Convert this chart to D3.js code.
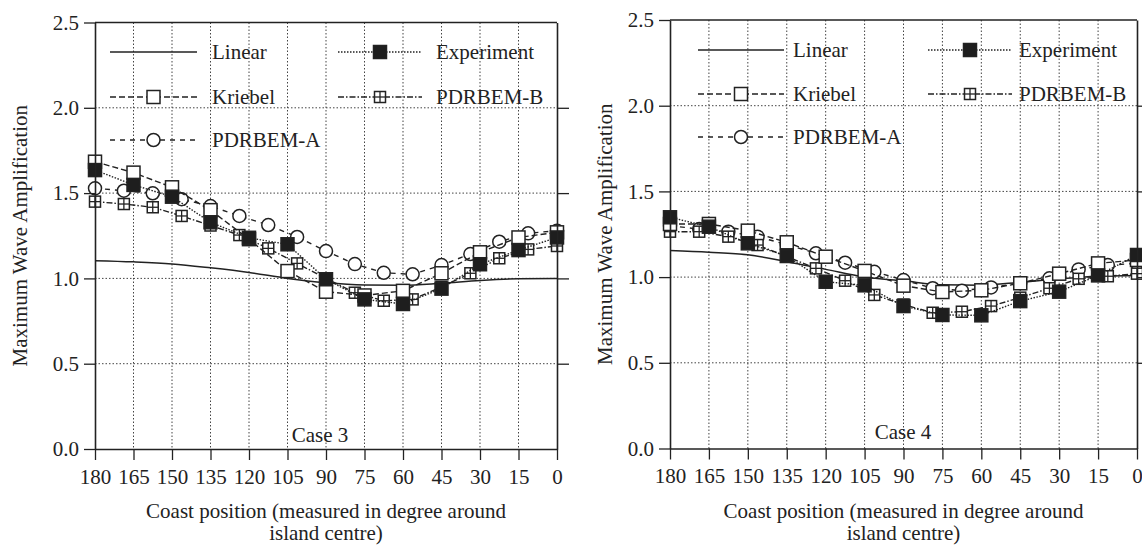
<!DOCTYPE html>
<html lang="en">
<head>
    <meta charset="UTF-8">
    <title>Maximum wave amplification, Case 3 and Case 4</title>
    <script src="https://d3js.org/d3.v7.min.js"></script>
    <style>
        body { margin: 0; background: #fff; }
        svg text { font-family: "Liberation Serif", "Times New Roman", serif; fill: #222; }
        .axis path, .axis line { stroke: #222; }
        .grid { stroke: #444; stroke-dasharray: 1.5,2; stroke-width: 1; }
    </style>
</head>
<body>
    <svg width="1142" height="545"></svg>

    <script>
        // tick labels / categories
        var xTicks = [180, 165, 150, 135, 120, 105, 90, 75, 60, 45, 30, 15, 0];
        var yTicks = [0.0, 0.5, 1.0, 1.5, 2.0, 2.5];
        // positions of the PDRBEM results (every 11.25 degree)
        var xFine = [180, 168.75, 157.5, 146.25, 135, 123.75, 112.5, 101.25, 90,
                     78.75, 67.5, 56.25, 45, 33.75, 22.5, 11.25, 0];

        // Case 3
        var linear3   = [1.104, 1.097, 1.085, 1.062, 1.035, 1.0, 0.975, 0.962, 0.96, 0.972, 0.988, 0.998, 1.0];
        var kriebel3  = [1.684, 1.62, 1.534, 1.40, 1.23, 1.043, 0.922, 0.90, 0.927, 1.03, 1.153, 1.24, 1.27];
        var exp3      = [1.635, 1.548, 1.479, 1.329, 1.238, 1.20, 0.995, 0.877, 0.85, 0.94, 1.083, 1.166, 1.24];
        var pdrA3     = [1.528, 1.514, 1.499, 1.464, 1.424, 1.366, 1.313, 1.243, 1.16, 1.084, 1.033, 1.024,
                         1.078, 1.143, 1.215, 1.264, 1.28];
        var pdrB3     = [1.45, 1.436, 1.417, 1.366, 1.31, 1.254, 1.176, 1.088, 1.0, 0.916, 0.869, 0.877,
                         0.95, 1.03, 1.118, 1.17, 1.19];

        // Case 4
        var linear4   = [1.155, 1.145, 1.13, 1.09, 1.045, 1.0, 0.978, 0.955, 0.953, 0.97, 0.99, 1.005, 1.01];
        var kriebel4  = [1.31, 1.31, 1.271, 1.203, 1.119, 1.036, 0.95, 0.913, 0.923, 0.964, 1.02, 1.08, 1.10];
        var exp4      = [1.349, 1.294, 1.197, 1.123, 0.973, 0.952, 0.831, 0.779, 0.777, 0.86, 0.915, 1.01, 1.129];
        var pdrA4     = [1.30, 1.28, 1.265, 1.236, 1.19, 1.139, 1.084, 1.031, 0.983, 0.935, 0.921, 0.94,
                         0.965, 0.993, 1.045, 1.07, 1.08];
        var pdrB4     = [1.265, 1.265, 1.236, 1.187, 1.12, 1.051, 0.979, 0.896, 0.84, 0.792, 0.798, 0.831,
                         0.88, 0.935, 0.99, 1.005, 1.02];

        var svg = d3.select("svg");
        var fontSize = "21px";

        // series styles (drawing order: bottom first)
        var styles = {
            linear:  { dash: null,          marker: null },
            pdrA:    { dash: "5,5",         marker: "circle" },
            pdrB:    { dash: "6,2,1.5,2",   marker: "cross" },
            kriebel: { dash: "6,3",         marker: "open" },
            exp:     { dash: "1.5,1.5",     marker: "filled" }
        };

        function drawMarker(g, type, cx, cy) {
            if (type === "circle") {
                g.append("circle").attr("cx", cx).attr("cy", cy).attr("r", 6.5)
                    .attr("fill", "#fff").attr("stroke", "#222").attr("stroke-width", 1.5);
            } else if (type === "open" || type === "filled") {
                g.append("rect").attr("x", cx - 6.5).attr("y", cy - 6.5)
                    .attr("width", 13).attr("height", 13)
                    .attr("fill", type === "filled" ? "#1e1e1e" : "#fff")
                    .attr("stroke", "#222").attr("stroke-width", 1.5);
            } else if (type === "cross") {
                g.append("rect").attr("x", cx - 5.5).attr("y", cy - 5.5)
                    .attr("width", 11).attr("height", 11)
                    .attr("fill", "#fff").attr("stroke", "#222").attr("stroke-width", 1.5);
                g.append("line").attr("x1", cx - 5.5).attr("x2", cx + 5.5).attr("y1", cy).attr("y2", cy)
                    .attr("stroke", "#222").attr("stroke-width", 1.3);
                g.append("line").attr("x1", cx).attr("x2", cx).attr("y1", cy - 5.5).attr("y2", cy + 5.5)
                    .attr("stroke", "#222").attr("stroke-width", 1.3);
            }
        }

        function drawPanel(cfg) {
            var x = d3.scaleLinear().domain([180, 0]).range([cfg.x0, cfg.x1]);
            var y = d3.scaleLinear().domain([0, 2.5]).range([cfg.yBot, cfg.yTop]);
            var g = svg.append("g");

            // grid
            g.selectAll(".gx").data(xTicks.slice(1, -1)).enter().append("line")
                .attr("class", "grid")
                .attr("x1", function(d) { return x(d); }).attr("x2", function(d) { return x(d); })
                .attr("y1", cfg.yTop).attr("y2", cfg.yBot);
            g.selectAll(".gy").data(yTicks.slice(1, -1)).enter().append("line")
                .attr("class", "grid")
                .attr("x1", cfg.x0).attr("x2", cfg.x1)
                .attr("y1", function(d) { return y(d); }).attr("y2", function(d) { return y(d); });

            // series
            var line = d3.line().x(function(d) { return x(d[0]); }).y(function(d) { return y(d[1]); });
            var series = [
                { key: "linear",  xs: xTicks, ys: cfg.linear },
                { key: "pdrA",    xs: xFine,  ys: cfg.pdrA },
                { key: "pdrB",    xs: xFine,  ys: cfg.pdrB },
                { key: "kriebel", xs: xTicks, ys: cfg.kriebel },
                { key: "exp",     xs: xTicks, ys: cfg.exp }
            ];
            series.forEach(function(s) {
                var st = styles[s.key];
                var pts = s.xs.map(function(d, i) { return [d, s.ys[i]]; });
                g.append("path")
                    .attr("d", s.key === "linear" ? line.curve(d3.curveMonotoneX)(pts) : line.curve(d3.curveLinear)(pts))
                    .attr("fill", "none").attr("stroke", "#222")
                    .attr("stroke-width", s.key === "linear" ? 1.5 : 1.4)
                    .attr("stroke-dasharray", st.dash);
                if (st.marker) {
                    var mg = g.append("g");
                    pts.forEach(function(p) { drawMarker(mg, st.marker, x(p[0]), y(p[1])); });
                }
            });

            // axes
            g.append("g").attr("class", "axis").attr("transform", "translate(0," + cfg.yBot + ")")
                .call(d3.axisBottom(x).tickValues(xTicks).tickSize(11).tickSizeOuter(0).tickPadding(9)
                    .tickFormat(d3.format("d")));
            g.append("g").attr("class", "axis").attr("transform", "translate(" + cfg.x0 + ",0)")
                .call(d3.axisLeft(y).tickValues(yTicks).tickSize(11).tickSizeOuter(0).tickPadding(5)
                    .tickFormat(d3.format(".1f")));
            g.append("g").attr("class", "axis").attr("transform", "translate(" + cfg.x1 + ",0)")
                .call(d3.axisRight(y).tickValues(yTicks.slice(1, -1)).tickSize(12).tickSizeOuter(0)
                    .tickFormat(""));
            g.append("line").attr("x1", cfg.x0).attr("x2", cfg.x1).attr("y1", cfg.yTop).attr("y2", cfg.yTop)
                .attr("stroke", "#222").attr("stroke-width", 1.5);
            g.selectAll(".axis path").attr("stroke-width", 1.6);
            g.selectAll(".axis line").attr("stroke-width", 1.3);
            g.selectAll(".axis text").style("font-size", fontSize).attr("fill", "#222");
            g.selectAll(".axis").attr("font-family", null);

            // axis titles
            var mid = (cfg.x0 + cfg.x1) / 2;
            g.append("text").attr("x", mid).attr("y", cfg.yBot + 69).attr("text-anchor", "middle")
                .style("font-size", fontSize).text("Coast position (measured in degree around");
            g.append("text").attr("x", mid).attr("y", cfg.yBot + 91).attr("text-anchor", "middle")
                .style("font-size", fontSize).text("island centre)");
            g.append("text").attr("transform", "translate(" + cfg.titleX + "," + ((cfg.yTop + cfg.yBot) / 2) + ") rotate(-90)")
                .attr("text-anchor", "middle").attr("dy", "0.35em")
                .style("font-size", fontSize).text("Maximum Wave Amplification");

            // case label
            g.append("text").attr("x", cfg.caseX).attr("y", cfg.caseY).attr("dy", "0.35em")
                .attr("text-anchor", "middle").style("font-size", fontSize).text(cfg.caseName);

            // legend
            var leg = [
                { key: "linear",  name: "Linear",     col: 0, row: 0 },
                { key: "kriebel", name: "Kriebel",    col: 0, row: 1 },
                { key: "pdrA",    name: "PDRBEM-A",   col: 0, row: 2 },
                { key: "exp",     name: "Experiment", col: 1, row: 0 },
                { key: "pdrB",    name: "PDRBEM-B",   col: 1, row: 1 }
            ];
            leg.forEach(function(l) {
                var c = cfg.legend[l.col];
                var ly = cfg.legendRows[l.row];
                var st = styles[l.key];
                g.append("line").attr("x1", c[0]).attr("x2", c[1]).attr("y1", ly).attr("y2", ly)
                    .attr("stroke", "#222").attr("stroke-width", 1.4).attr("stroke-dasharray", st.dash);
                if (st.marker) drawMarker(g, st.marker, (c[0] + c[1]) / 2, ly);
                g.append("text").attr("x", c[2]).attr("y", ly).attr("dy", "0.35em")
                    .style("font-size", fontSize).text(l.name);
            });
        }

        drawPanel({
            x0: 95, x1: 557, yTop: 22.5, yBot: 449, titleX: 20,
            caseName: "Case 3", caseX: 320, caseY: 435,
            legend: [[110, 197, 212], [338, 422, 436]], legendRows: [52, 97, 140],
            linear: linear3, kriebel: kriebel3, exp: exp3, pdrA: pdrA3, pdrB: pdrB3
        });
        drawPanel({
            x0: 670, x1: 1137, yTop: 20, yBot: 448.5, titleX: 605,
            caseName: "Case 4", caseX: 903, caseY: 432,
            legend: [[698, 784, 793], [928, 1012, 1019]], legendRows: [50, 94, 137],
            linear: linear4, kriebel: kriebel4, exp: exp4, pdrA: pdrA4, pdrB: pdrB4
        });
    </script>
</body>
</html>
